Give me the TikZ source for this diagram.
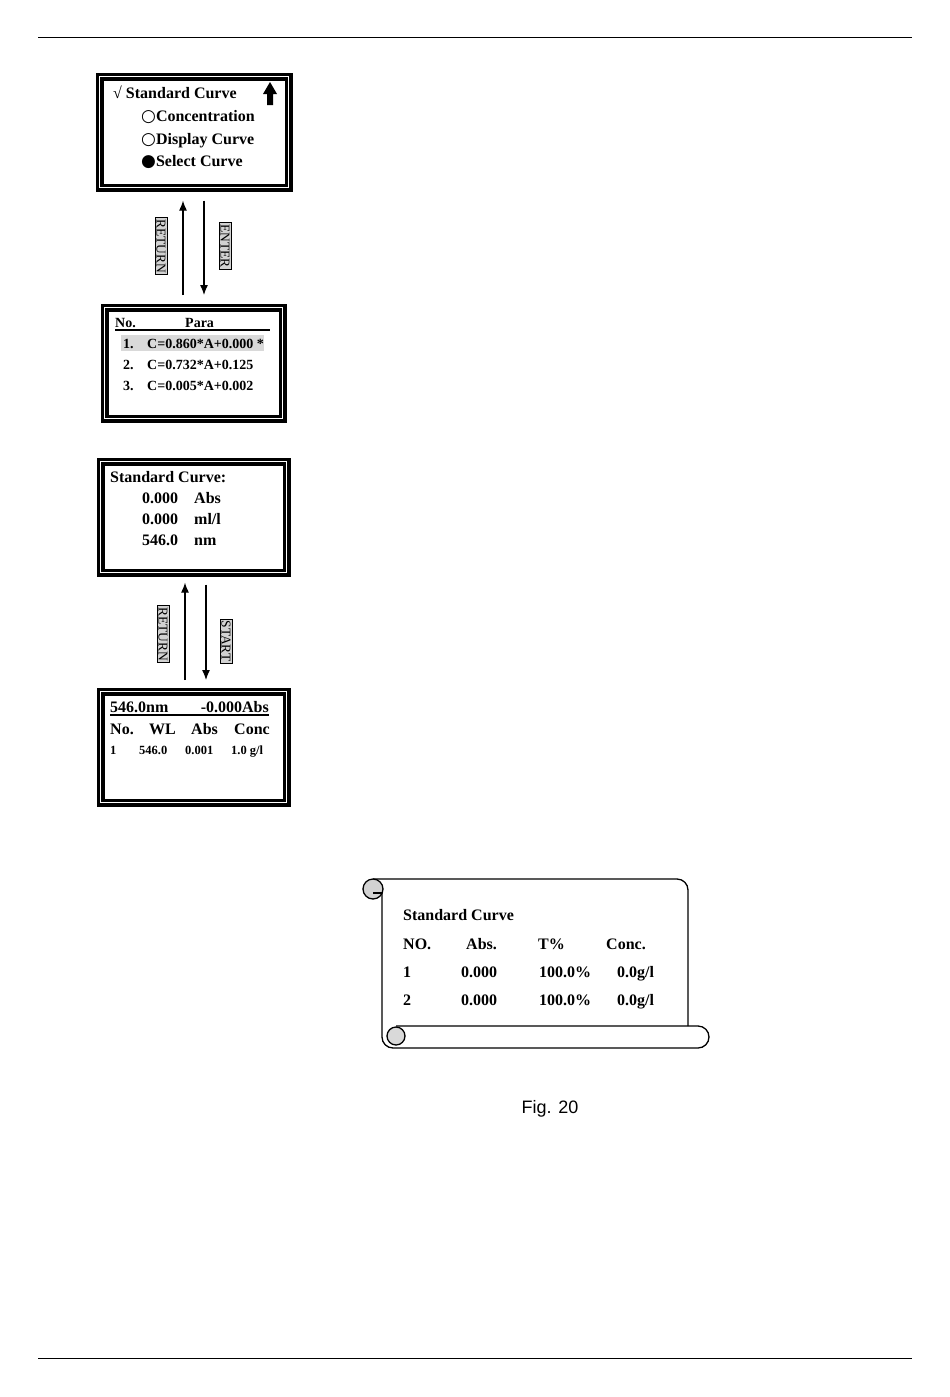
\documentclass[tikz,border=0pt]{standalone}
\usepackage{fontspec}
\setmainfont{Liberation Serif}
\newfontfamily\symfont{DejaVu Sans}
\newfontfamily\figfont{Liberation Sans}
\usetikzlibrary{calc,arrows.meta}
\begin{document}
\begin{tikzpicture}[x=1pt,y=-1pt,
  lcd/.style={draw,line width=3.6pt,double=white,double distance=1pt,inner sep=0pt,anchor=north west},
  txt/.style={anchor=base west,inner sep=0pt,font=\bfseries\fontsize{16}{18}\selectfont},
  stxt/.style={anchor=base west,inner sep=0pt,font=\bfseries\fontsize{14}{16}\selectfont},
  xtxt/.style={anchor=base west,inner sep=0pt,font=\bfseries\fontsize{12.5}{14}\selectfont},
  keylbl/.style={draw,fill=gray!35,rotate=-90,inner sep=1.5pt,line width=0.7pt,font=\fontsize{13.5}{15}\selectfont},
  arr/.style={line width=1.2pt,-{Latex[length=10pt,width=8pt]}},
  rule/.style={line width=0.7pt},
  scroll/.style={line width=1.3pt}
]
\useasboundingbox (0,0) rectangle (950,1397);
% page rules
\coordinate (r1a) at (38,37); \coordinate (r1b) at (912,37);
\coordinate (r2a) at (38,1358); \coordinate (r2b) at (912,1358);
\draw[rule] (r1a) -- (r1b);
\draw[rule] (r2a) -- (r2b);

% ---------- Screen 1
\node[lcd,minimum width=189,minimum height=111] (s1) at (98,75) {};
\node[txt] (s1a) at (113,99) {√ Standard Curve};
\node[txt] (s1b) at (141,121) {{\symfont\fontsize{17}{18}\selectfont ○}Concentration};
\node[txt] (s1c) at (141,144) {{\symfont\fontsize{17}{18}\selectfont ○}Display Curve};
\node[txt] (s1d) at (141,166) {{\symfont\fontsize{17}{18}\selectfont ●}Select Curve};
\fill (270,82) -- (277,94) -- (273,94) -- (273,105) -- (267,105) -- (267,94) -- (263,94) -- cycle;

% ---------- Screen 2
\node[lcd,minimum width=178,minimum height=111] (s2) at (103,306) {};
\fill[gray!30] (121,335) rectangle (264,351);
\node[stxt] (s2h1) at (115,327) {No.};
\node[stxt] (s2h2) at (185,327) {Para};
\draw[line width=1.2pt] (115,330) -- (270,330);
\node[stxt] (s2r1n) at (123,348) {1.};
\node[stxt] (s2r1) at (147,348) {C=0.860*A+0.000 *};
\node[stxt] (s2r2n) at (123,369) {2.};
\node[stxt] (s2r2) at (147,369) {C=0.732*A+0.125};
\node[stxt] (s2r3n) at (123,390) {3.};
\node[stxt] (s2r3) at (147,390) {C=0.005*A+0.002};

% arrows 1-2
\coordinate (ua) at (183,0); \coordinate (da) at (204,0);
\draw[arr,shorten <=11pt,shorten >=11pt] (ua |- s2.north) -- (ua |- s1.south);
\draw[arr,shorten <=11pt,shorten >=11pt] (da |- s1.south) -- (da |- s2.north);
\node[keylbl] (k1) at (161,246) {RETURN};
\node[keylbl] (k2) at (225,246) {ENTER};

% ---------- Screen 3
\node[lcd,minimum width=186,minimum height=111] (s3) at (99,460) {};
\node[txt] (s3a) at (110,482) {Standard Curve:};
\node[txt] (s3b1) at (142,503) {0.000};
\node[txt] (s3b2) at (194,503) {Abs};
\node[txt] (s3c1) at (142,524) {0.000};
\node[txt] (s3c2) at (194,524) {ml/l};
\node[txt] (s3d1) at (142,545) {546.0};
\node[txt] (s3d2) at (194,545) {nm};

% ---------- Screen 4
\node[lcd,minimum width=186,minimum height=111] (s4) at (99,690) {};
\node[txt] (s4a) at (110,712) {546.0nm};
\node[txt,anchor=base east] (s4b) at (269,712) {-0.000Abs};
\draw[line width=1.2pt] (110,715) -- (269,715);
\node[txt] (s4h1) at (110,734) {No.};
\node[txt] (s4h2) at (149,734) {WL};
\node[txt] (s4h3) at (191,734) {Abs};
\node[txt] (s4h4) at (234,734) {Conc};
\node[xtxt] (s4r1) at (110,754) {1};
\node[xtxt] (s4r2) at (139,754) {546.0};
\node[xtxt] (s4r3) at (185,754) {0.001};
\node[xtxt] (s4r4) at (231,754) {1.0 g/l};

% arrows 3-4
\coordinate (ub) at (185,0); \coordinate (db) at (206,0);
\draw[arr,shorten <=10pt,shorten >=8pt] (ub |- s4.north) -- (ub |- s3.south);
\draw[arr,shorten <=10pt,shorten >=10pt] (db |- s3.south) -- (db |- s4.north);
\node[keylbl] (k3) at (163,634) {RETURN};
\node[keylbl] (k4) at (226,641) {START};

% ---------- Scroll
\draw[scroll,rounded corners=11pt] (373,879) -- (688,879) -- (688,1026);
\draw[scroll,rounded corners=11pt] (396,1026) -- (709,1026) -- (709,1048) -- (382,1048) -- (382,889);
\draw[scroll,fill=gray!35] (373,889) circle (10);
\draw[scroll] (373,893) -- (382,893);
\draw[scroll,fill=gray!30] (396,1036) circle (9);
\node[txt] (p0) at (403,920) {Standard Curve};
\node[txt] (p1) at (403,949) {NO.};
\node[txt] (p2) at (466,949) {Abs.};
\node[txt] (p3) at (538,949) {T\%};
\node[txt] (p4) at (606,949) {Conc.};
\node[txt] (p5) at (403,977) {1};
\node[txt] (p6) at (461,977) {0.000};
\node[txt] (p7) at (539,977) {100.0\%};
\node[txt] (p8) at (617,977) {0.0g/l};
\node[txt] (p9) at (403,1005) {2};
\node[txt] (p10) at (461,1005) {0.000};
\node[txt] (p11) at (539,1005) {100.0\%};
\node[txt] (p12) at (617,1005) {0.0g/l};

\node[anchor=base,inner sep=0pt,font=\figfont\fontsize{18}{20}\selectfont] (fig) at (550,1113) {Fig. 20};
\end{tikzpicture}
\end{document}
